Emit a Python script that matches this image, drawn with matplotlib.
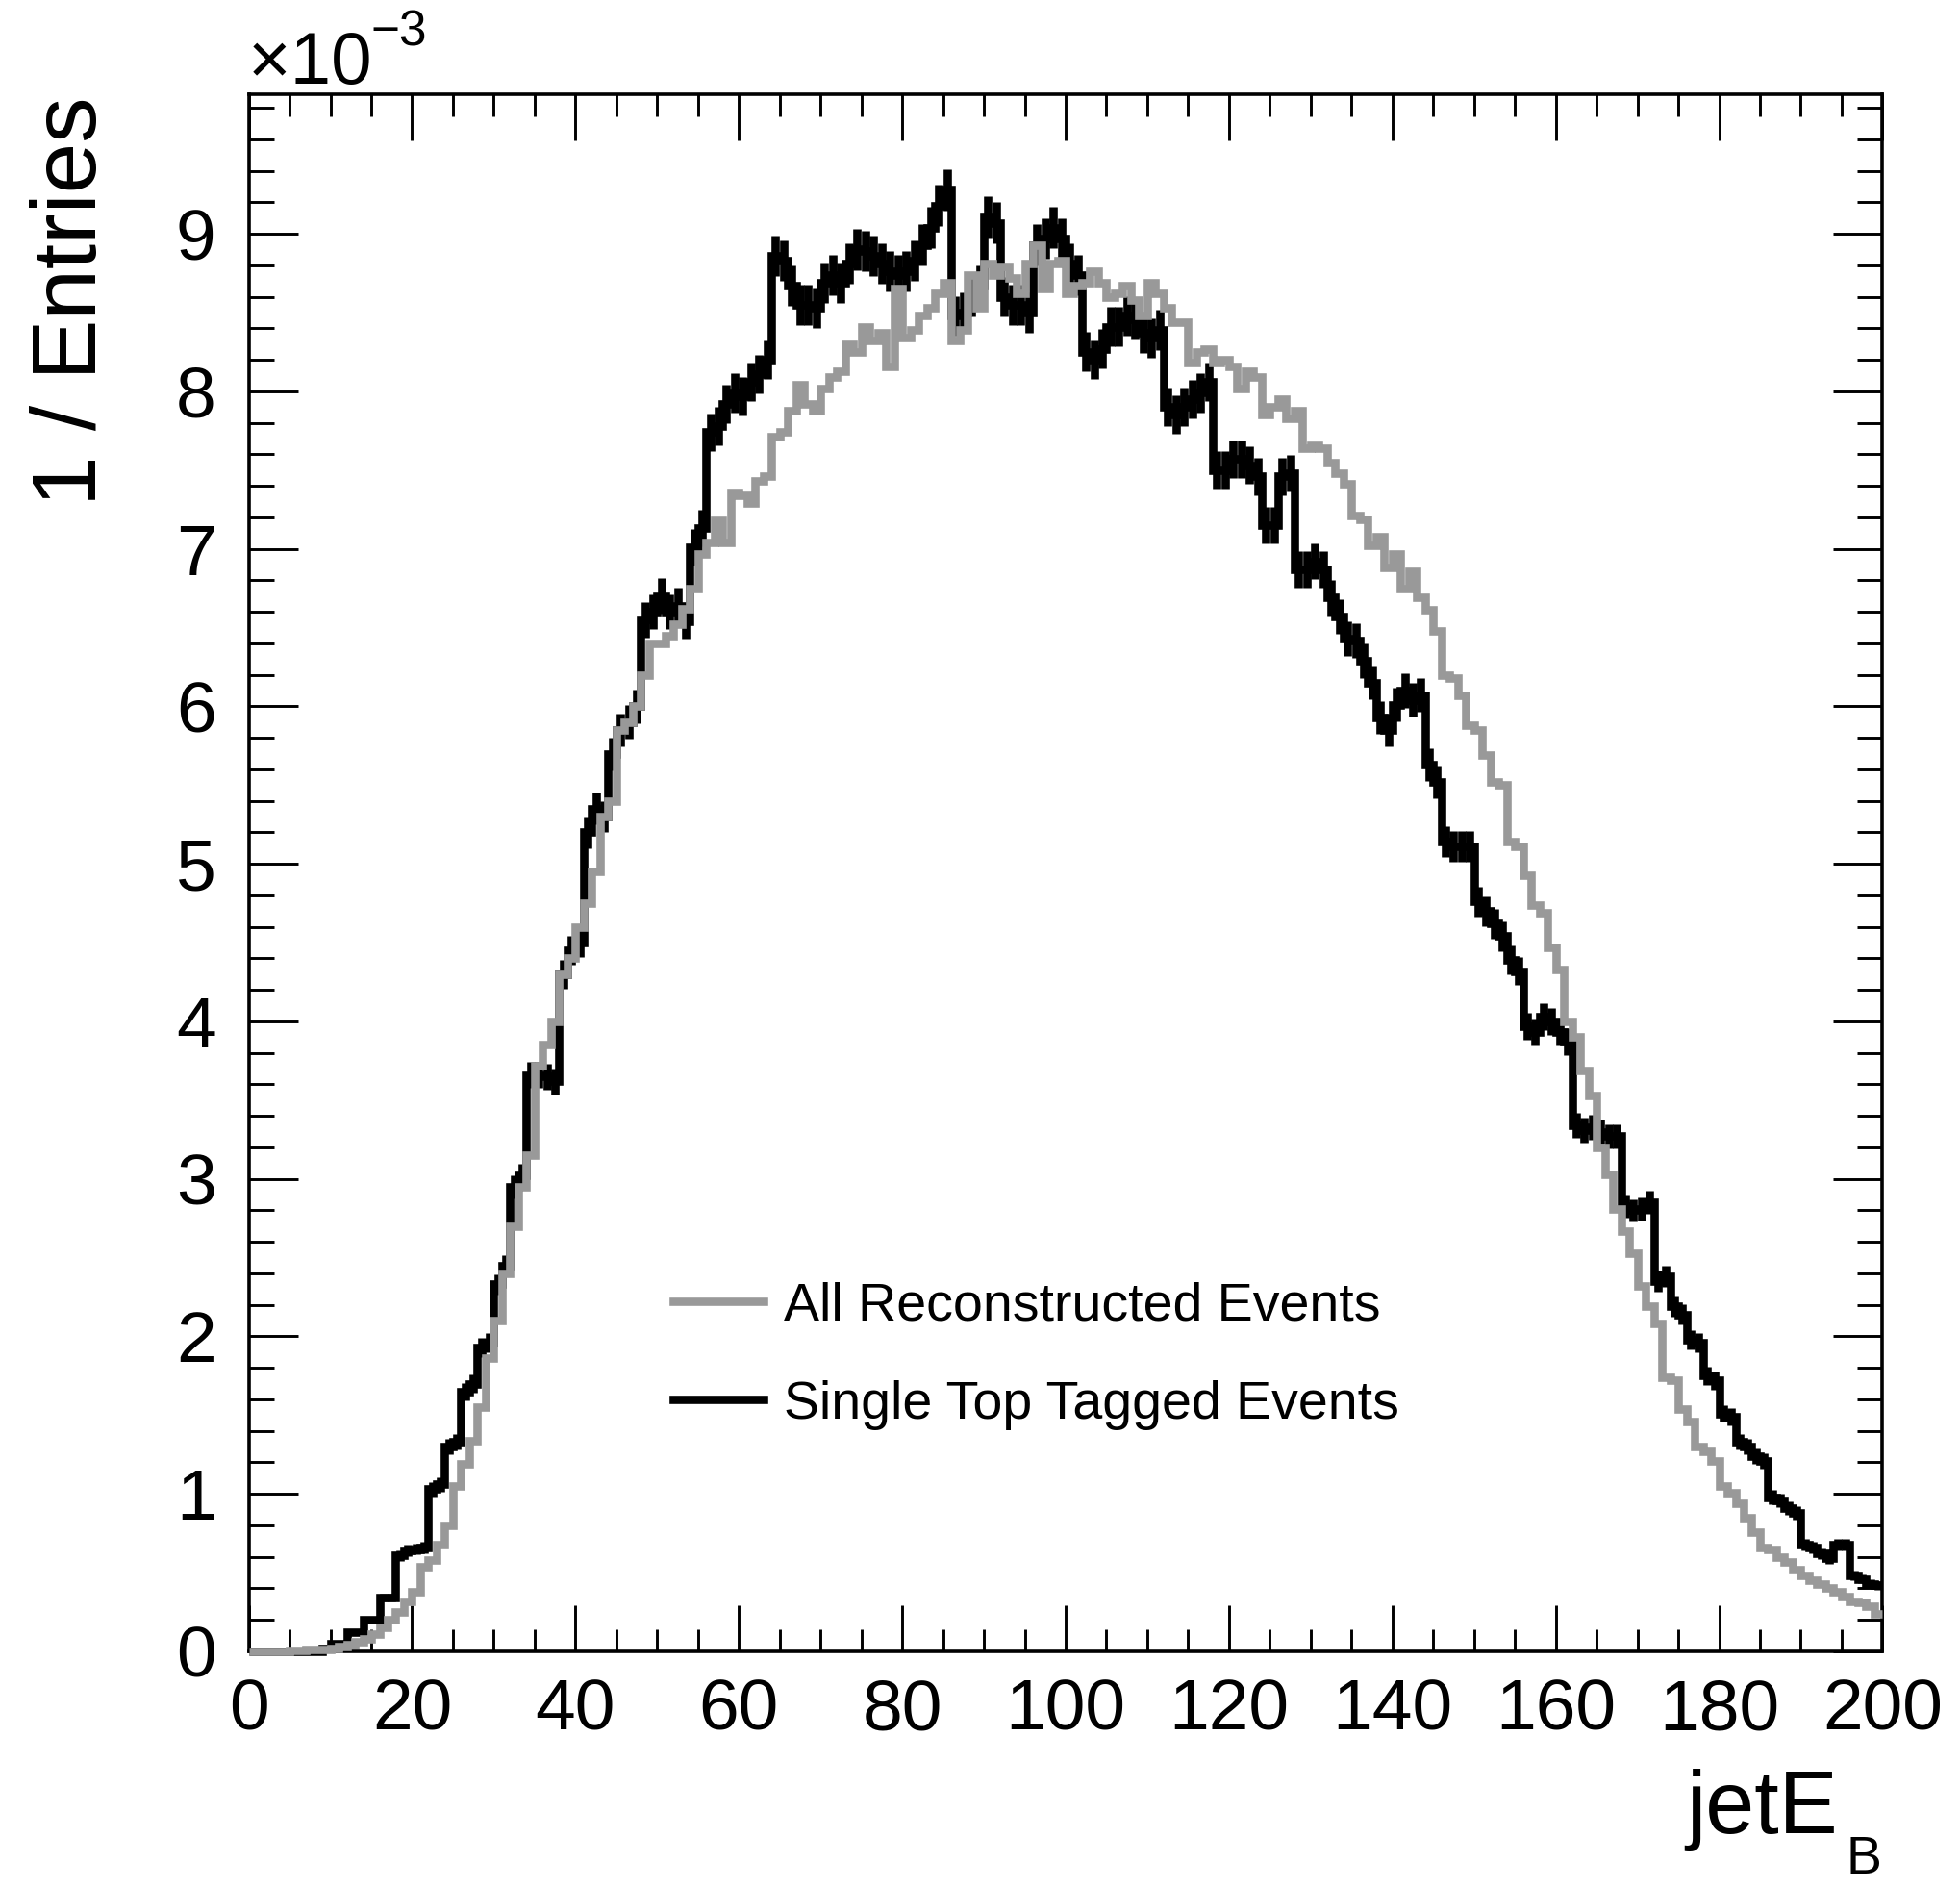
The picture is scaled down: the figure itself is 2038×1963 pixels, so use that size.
import numpy as np
import matplotlib.pyplot as plt
from matplotlib.lines import Line2D

plt.rcParams['font.family'] = ['Liberation Sans', 'DejaVu Sans']

# 1 GeV bins from 0 to 200, contents in units of 1e-3 (normalised to entries)
edges = np.arange(0, 201, 1)

all_reco = [
    0.0, 0.0, 0.0, 0.0, 0.0, 0.005, 0.005, 0.01, 0.01, 0.015,
    0.02, 0.03, 0.04, 0.06, 0.08, 0.11, 0.15, 0.2, 0.25, 0.32,
    0.38, 0.54, 0.58, 0.68, 0.8, 1.05, 1.19, 1.34, 1.55, 1.86,
    2.1, 2.4, 2.7, 2.95, 3.15, 3.72, 3.85, 4.0, 4.3, 4.4,
    4.6, 4.75, 4.95, 5.3, 5.4, 5.85, 5.9, 6.0, 6.2, 6.4,
    6.4, 6.45, 6.52, 6.62, 6.75, 6.97, 7.04, 7.18, 7.04, 7.36,
    7.34, 7.29, 7.43, 7.46, 7.71, 7.74, 7.88, 8.04, 7.92, 7.88,
    8.02, 8.09, 8.13, 8.30, 8.25, 8.41, 8.32, 8.37, 8.16, 8.65,
    8.34, 8.39, 8.48, 8.53, 8.62, 8.69, 8.32, 8.39, 8.74, 8.53,
    8.81, 8.74, 8.79, 8.72, 8.62, 8.81, 8.93, 8.65, 8.81, 8.83,
    8.62, 8.67, 8.69, 8.76, 8.69, 8.60, 8.62, 8.67, 8.58, 8.48,
    8.69, 8.62, 8.53, 8.44, 8.44, 8.18, 8.25, 8.27, 8.18, 8.20,
    8.16, 8.02, 8.13, 8.09, 7.85, 7.90, 7.95, 7.83, 7.88, 7.64,
    7.66, 7.64, 7.55, 7.48, 7.41, 7.21, 7.19, 7.02, 7.08, 6.88,
    6.97, 6.75, 6.86, 6.69, 6.61, 6.48, 6.20, 6.18, 6.07, 5.88,
    5.85, 5.69, 5.52, 5.50, 5.14, 5.11, 4.93, 4.74, 4.69, 4.47,
    4.33, 4.0, 3.90, 3.69, 3.53, 3.20, 3.03, 2.81, 2.67, 2.53,
    2.32, 2.19, 2.08, 1.74, 1.72, 1.54, 1.46, 1.30, 1.27, 1.21,
    1.05, 1.01, 0.94, 0.85, 0.76, 0.66, 0.65, 0.60, 0.57, 0.52,
    0.48, 0.45, 0.43, 0.40, 0.38, 0.35, 0.32, 0.31, 0.29, 0.24,
]

top_tagged = [
    0.0, 0.0, 0.0, 0.0, 0.0, 0.0, 0.0, 0.0, 0.0, 0.02,
    0.05, 0.05, 0.12, 0.12, 0.2, 0.2, 0.34, 0.34, 0.61, 0.64,
    0.65, 0.66, 1.03, 1.06, 1.30, 1.33, 1.65, 1.70, 1.93, 1.96,
    2.33, 2.45, 2.95, 3.02, 3.66, 3.66, 3.65, 3.62, 4.3, 4.45,
    4.5, 5.2, 5.35, 5.3, 5.7, 5.85, 5.9, 6.0, 6.55, 6.6,
    6.7, 6.6, 6.64, 6.54, 7.01, 7.13, 7.74, 7.78, 7.92, 7.99,
    7.97, 8.06, 8.11, 8.20, 8.86, 8.83, 8.67, 8.55, 8.55, 8.53,
    8.69, 8.74, 8.69, 8.81, 8.90, 8.89, 8.86, 8.81, 8.76, 8.74,
    8.76, 8.83, 8.93, 9.04, 9.18, 9.28, 8.48, 8.50, 8.60, 8.67,
    9.11, 9.07, 8.60, 8.55, 8.55, 8.50, 8.93, 8.97, 9.04, 8.97,
    8.81, 8.74, 8.25, 8.20, 8.27, 8.41, 8.41, 8.48, 8.46, 8.37,
    8.34, 8.39, 7.90, 7.85, 7.90, 7.95, 7.99, 8.06, 7.50, 7.50,
    7.57, 7.57, 7.53, 7.46, 7.15, 7.15, 7.46, 7.48, 6.87, 6.87,
    6.92, 6.87, 6.69, 6.57, 6.43, 6.42, 6.29, 6.15, 5.93, 5.85,
    6.01, 6.10, 6.04, 6.07, 5.63, 5.52, 5.14, 5.11, 5.11, 5.11,
    4.76, 4.70, 4.62, 4.54, 4.39, 4.32, 3.97, 3.93, 4.03, 4.00,
    3.93, 3.87, 3.34, 3.31, 3.33, 3.30, 3.27, 3.27, 2.83, 2.80,
    2.81, 2.85, 2.35, 2.38, 2.19, 2.14, 1.98, 1.96, 1.75, 1.72,
    1.51, 1.49, 1.33, 1.30, 1.24, 1.21, 0.98, 0.96, 0.91, 0.88,
    0.68, 0.66, 0.62, 0.59, 0.68, 0.68, 0.48, 0.46, 0.43, 0.42,
]

labels = ["All Reconstructed Events", "Single Top Tagged Events"]
n_tagged = 5.3e5  # entries behind the tagged histogram, for Poisson errors

W, H = 2038, 1963
fig = plt.figure(figsize=(W / 100, H / 100), dpi=100)
ax = fig.add_axes([258.6 / W, 1 - 1717 / H, (1957.4 - 258.6) / W, (1717 - 97.5) / H])

lw = 6.2
gray = '#999999'

tt = np.array(top_tagged)
centers = 0.5 * (edges[:-1] + edges[1:])
err = np.sqrt(tt * 1e-3 / n_tagged) / 1e-3

ax.stairs(tt, edges, baseline=None, color='black', lw=lw, zorder=2, clip_on=False)
ax.errorbar(centers, tt, yerr=err, fmt='none', ecolor='black', elinewidth=lw,
            capsize=0, zorder=2)
ax.stairs(all_reco, edges, baseline=None, color=gray, lw=lw, zorder=3, clip_on=False)

ax.set_xlim(0, 200)
ax.set_ylim(0, 9.889)
ax.set_xticks(np.arange(0, 201, 20))
ax.set_xticks(np.arange(0, 201, 5), minor=True)
ax.set_yticks(np.arange(0, 10, 1))
ax.set_yticks(np.arange(0, 9.9, 0.2), minor=True)
ax.tick_params(which='both', direction='in', top=True, right=True, width=2.1,
               labelsize=54)
ax.tick_params(axis='x', which='major', length=34.7, pad=19.5)
ax.tick_params(axis='x', which='minor', length=16.7)
ax.tick_params(axis='y', which='major', length=37, pad=24.5)
ax.tick_params(axis='y', which='minor', length=18.7)
for s in ax.spines.values():
    s.set_linewidth(2.6)

handles = [Line2D([], [], color=gray, lw=lw), Line2D([], [], color='black', lw=lw)]
ax.legend(handles, labels, loc='center left', bbox_to_anchor=(0.2598, 0.1896),
          frameon=False, fontsize=40, handlelength=1.69, handletextpad=0.38,
          labelspacing=0.90, borderpad=0, borderaxespad=0)

# axis titles and exponent, ROOT style
fig.text(100 / W, 1 - 100 / H, '1 / Entries', rotation=90, rotation_mode='anchor',
         ha='right', va='baseline', fontsize=68)
fig.text(1911 / W, 1 - 1906 / H, 'jetE', ha='right', va='baseline', fontsize=66)
fig.text(1956 / W, 1 - 1948 / H, 'B', ha='right', va='baseline', fontsize=40)
fig.text(258 / W, 1 - 87.5 / H, '\u00d710', ha='left', va='baseline', fontsize=55)
fig.text(385 / W, 1 - 48 / H, '\u22123', ha='left', va='baseline', fontsize=37)

fig.savefig('out.png', dpi=100)
